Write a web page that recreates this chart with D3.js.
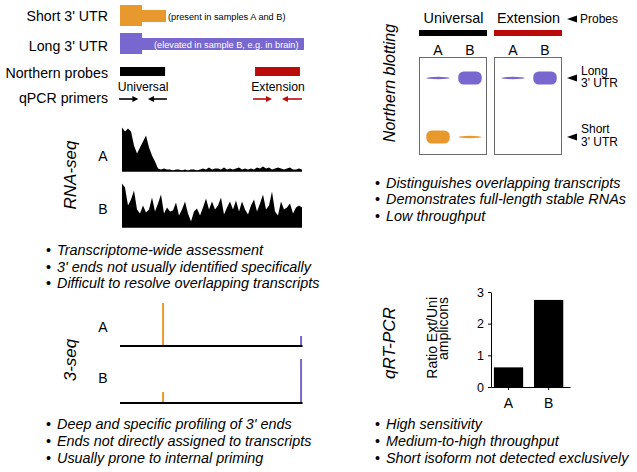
<!DOCTYPE html>
<html><head><meta charset="utf-8">
<script src="https://cdn.jsdelivr.net/npm/d3@7"></script>
<style>
body{margin:0;background:#fff}
svg{display:block;font-family:"Liberation Sans",Arial,Helvetica,sans-serif}
</style>
</head><body>
<svg id="c" width="637" height="472"></svg>
<script>
// ---------------- DATA ----------------
const samples = ["A", "B"];
const isoformNames = ["Short 3' UTR", "Long 3' UTR"];
const isoformNotes = ["(present in samples A and B)", "(elevated in sample B, e.g. in brain)"];
const isoformEnds = [25, 100];          // gene coordinate (0-100) of each 3' end
const cdsEnd = 12;                       // end of the thick (coding) part
const rowLabels = ["Northern probes", "qPCR primers"];
const probeNames = ["Universal", "Extension"];
const probeStarts = [0, 73.4];
const probeEnds = [24.5, 97.8];
const primerFwdStarts = [-0.5, 72.3];
const primerFwdEnds = [10, 82.6];
const primerRevStarts = [25.5, 98.9];
const primerRevEnds = [15.2, 88];

// RNA-seq coverage (61 bins along the gene)
const rnaSeqA = [44,40,43,40,26,18,24,30,36,24,16,10,3,2,3,2,2,1,2,2,1,2,1,2,2,1,2,3,2,4,2,3,3,2,4,2,3,2,3,4,2,3,2,3,2,4,3,5,3,4,2,3,4,3,2,3,4,2,2,3,2];
const rnaSeqB = [44,40,22,28,37,18,14,22,15,18,30,16,24,33,14,20,16,17,25,12,18,26,14,6,16,19,12,20,29,18,26,18,22,30,13,20,26,18,27,16,26,18,13,22,28,16,24,33,18,22,36,16,12,26,18,20,24,14,20,22,20];

// 3-seq read end counts at the two 3' ends
const threeSeqPos = [23.4, 98.4];
const threeSeqA = [43, 10];
const threeSeqB = [11, 44];

// Northern blot band intensities [sample A, sample B]
const blotIsoforms = ["Long", "Short"];
const uniLong = [0.12, 1];
const uniShort = [1, 0.12];
const extLong = [0.12, 1];
const extShort = [0, 0];

// qRT-PCR
const qpcrValues = [0.62, 2.75];
const qpcrTicks = [0, 1, 2, 3];

// text
const bulletsRnaSeq = ["Transcriptome-wide assessment", "3' ends not usually identified specifically", "Difficult to resolve overlapping transcripts"];
const bullets3Seq = ["Deep and specific profiling of 3' ends", "Ends not directly assigned to transcripts", "Usually prone to internal priming"];
const bulletsNorthern = ["Distinguishes overlapping transcripts", "Demonstrates full-length stable RNAs", "Low throughput"];
const bulletsQpcr = ["High sensitivity", "Medium-to-high throughput", "Short isoform not detected exclusively"];

// ---------------- STYLE ----------------
const ORANGE = "#E8992E", PURPLE = "#7767CF", RED = "#BA0A0A", BLACK = "#000";
const svg = d3.select("#c");

const gx = d3.scaleLinear().domain([0, 100]).range([120, 304]);

// ---------- Top-left schema ----------
const labelsLeft = [...isoformNames, ...rowLabels];
const labelBase = [21, 51, 78, 103];
svg.selectAll("text.rowlab").data(labelsLeft).join("text")
  .attr("class", "rowlab").attr("x", 108).attr("y", (d, i) => labelBase[i])
  .attr("text-anchor", "end").attr("font-size", 14.2).text(d => d);

const isoY = [[5, 26, 10, 22], [33, 54, 38, 50]];
const isoCol = [ORANGE, PURPLE];
isoformEnds.forEach((e, i) => {
  svg.append("rect").attr("x", gx(0)).attr("y", isoY[i][0]).attr("width", gx(cdsEnd) - gx(0))
    .attr("height", isoY[i][1] - isoY[i][0]).attr("fill", isoCol[i]);
  svg.append("rect").attr("x", gx(cdsEnd) - 0.5).attr("y", isoY[i][2]).attr("width", gx(e) - gx(cdsEnd) + 0.5)
    .attr("height", isoY[i][3] - isoY[i][2]).attr("fill", isoCol[i]);
});
svg.append("text").attr("x", 168).attr("y", 19.5).attr("font-size", 9.2).text(isoformNotes[0]);
svg.append("text").attr("x", 154).attr("y", 48).attr("font-size", 9.2).attr("fill", "#fff").text(isoformNotes[1]);

const probeCol = [BLACK, RED];
probeNames.forEach((p, i) => {
  svg.append("rect").attr("x", gx(probeStarts[i])).attr("y", 67).attr("width", gx(probeEnds[i]) - gx(probeStarts[i]))
    .attr("height", 9).attr("fill", probeCol[i]);
  svg.append("text").attr("x", (gx(probeStarts[i]) + gx(probeEnds[i])) / 2 + 0.5).attr("y", 90.5)
    .attr("text-anchor", "middle").attr("font-size", 12.2).text(p);
});

function arrow(x1, x2, y, col) {
  const dir = Math.sign(x2 - x1);
  svg.append("line").attr("x1", x1).attr("x2", x2 - dir * 5).attr("y1", y).attr("y2", y)
    .attr("stroke", col).attr("stroke-width", 1.6);
  svg.append("path").attr("d", `M${x2},${y}L${x2 - dir * 6},${y - 3}L${x2 - dir * 6},${y + 3}Z`).attr("fill", col);
}
probeNames.forEach((p, i) => {
  arrow(gx(primerFwdStarts[i]), gx(primerFwdEnds[i]), 99, probeCol[i]);
  arrow(gx(primerRevStarts[i]), gx(primerRevEnds[i]), 99, probeCol[i]);
});

// ---------- Rotated method labels ----------
function vlabel(txt, x, y, size, style, anchor) {
  svg.append("text").attr("transform", `translate(${x},${y}) rotate(-90)`)
    .attr("text-anchor", anchor || "middle").attr("font-size", size)
    .attr("font-style", style || "normal").text(txt);
}
vlabel("RNA-seq", 75.5, 175, 17, "italic");
vlabel("3-seq", 75.5, 360, 17, "italic");
vlabel("Northern blotting", 395, 83, 16, "italic");
vlabel("qRT-PCR", 395, 343, 17, "italic");

// ---------- RNA-seq ----------
const covX = d3.scaleLinear().domain([0, rnaSeqA.length - 1]).range([122, 302]);
const covH = d3.scaleLinear().domain([0, 44]).range([0, 44]);
[[rnaSeqA, 171.5], [rnaSeqB, 227.5]].forEach(([arr, base], k) => {
  const area = d3.area().x((d, i) => covX(i)).y0(base).y1(d => base - covH(d));
  svg.append("path").datum(arr).attr("d", area).attr("fill", BLACK);
  svg.append("line").attr("x1", covX(0)).attr("x2", covX(arr.length - 1)).attr("y1", base - 0.5).attr("y2", base - 0.5)
    .attr("stroke", BLACK).attr("stroke-width", 1);
  svg.append("text").attr("x", 103).attr("y", k ? 214 : 161).attr("text-anchor", "middle")
    .attr("font-size", 14).text(samples[k]);
});

// ---------- Bullets ----------
function bullets(list, x, ys) {
  list.forEach((t, i) => {
    svg.append("text").attr("x", x - 11).attr("y", ys[i]).attr("font-size", 14.4).text("\u2022");
    svg.append("text").attr("x", x).attr("y", ys[i]).attr("font-size", 14.4).attr("font-style", "italic").text(t);
  });
}
bullets(bulletsRnaSeq, 57, [254.5, 271.5, 288]);
bullets(bullets3Seq, 57, [429, 446, 463]);
bullets(bulletsNorthern, 386, [187.5, 204, 221]);
bullets(bulletsQpcr, 386, [429, 446, 463]);

// ---------- 3-seq ----------
const endH = d3.scaleLinear().domain([0, 44]).range([0, 44]);
const endCol = [ORANGE, PURPLE];
[[threeSeqA, 346], [threeSeqB, 403]].forEach(([vals, base], k) => {
  svg.append("line").attr("x1", gx(0)).attr("x2", gx(99.2)).attr("y1", base).attr("y2", base)
    .attr("stroke", BLACK).attr("stroke-width", 2.2);
  vals.forEach((v, j) => {
    svg.append("line").attr("x1", gx(threeSeqPos[j])).attr("x2", gx(threeSeqPos[j]))
      .attr("y1", base - 1).attr("y2", base - endH(v)).attr("stroke", endCol[j]).attr("stroke-width", 2);
  });
  svg.append("text").attr("x", 103).attr("y", k ? 383 : 332).attr("text-anchor", "middle")
    .attr("font-size", 14).text(samples[k]);
});

// ---------- Northern blot ----------
const boxX = [419, 494];
const boxW = 67;
const laneX = d3.scalePoint().domain(samples).range([19, 51]);
const rowY = d3.scalePoint().domain(blotIsoforms).range([78, 137]);
const bandH = d3.scaleLinear().domain([0, 1]).range([0, 13]);
const panels = [
  {probe: probeNames[0], col: BLACK, data: {Long: uniLong, Short: uniShort}},
  {probe: probeNames[1], col: RED, data: {Long: extLong, Short: extShort}}
];
panels.forEach((p, i) => {
  const x0 = boxX[i];
  svg.append("text").attr("x", x0 + boxW / 2 + 1).attr("y", 23).attr("text-anchor", "middle")
    .attr("font-size", 14.4).text(p.probe);
  svg.append("rect").attr("x", x0).attr("y", 30).attr("width", boxW + 1).attr("height", 6).attr("fill", p.col);
  samples.forEach(s => {
    svg.append("text").attr("x", x0 + laneX(s)).attr("y", 54.5).attr("text-anchor", "middle")
      .attr("font-size", 14).text(s);
  });
  svg.append("rect").attr("x", x0 + 0.5).attr("y", 57.5).attr("width", boxW).attr("height", 97)
    .attr("fill", "none").attr("stroke", "#6b6b6b").attr("stroke-width", 1);
  blotIsoforms.forEach(iso => {
    const col = iso === "Long" ? PURPLE : ORANGE;
    p.data[iso].forEach((v, j) => {
      if (v <= 0) return;
      const cx = x0 + laneX(samples[j]), cy = rowY(iso), h = bandH(v), w = 23.5;
      if (h < 5) {
        svg.append("ellipse").attr("cx", cx).attr("cy", cy).attr("rx", w / 2).attr("ry", h / 2 + 0.4).attr("fill", col);
      } else {
        svg.append("rect").attr("x", cx - w / 2).attr("y", cy - h / 2).attr("width", w).attr("height", h)
          .attr("rx", 5.5).attr("fill", col);
      }
    });
  });
});
function leftTri(x, y) {
  svg.append("path").attr("d", `M${x},${y}L${x + 10},${y - 3.5}L${x + 10},${y + 3.5}Z`).attr("fill", BLACK);
}
leftTri(567, 19);
svg.append("text").attr("x", 580).attr("y", 23).attr("font-size", 12).text("Probes");
leftTri(567, rowY("Long"));
leftTri(567, rowY("Short"));
svg.append("text").attr("x", 581).attr("y", 74.5).attr("font-size", 12).text("Long");
svg.append("text").attr("x", 581).attr("y", 87).attr("font-size", 12).text("3' UTR");
svg.append("text").attr("x", 581).attr("y", 133).attr("font-size", 12).text("Short");
svg.append("text").attr("x", 581).attr("y", 146).attr("font-size", 12).text("3' UTR");

// ---------- qRT-PCR bar chart ----------
const qy = d3.scaleLinear().domain([0, 3]).range([387, 292]);
const qx = d3.scaleBand().domain(samples).range([491, 570]).paddingInner(0.27).paddingOuter(0.12).align(0.3);
svg.selectAll("rect.bar").data(qpcrValues).join("rect").attr("class", "bar")
  .attr("x", (d, i) => qx(samples[i])).attr("width", qx.bandwidth())
  .attr("y", d => qy(d)).attr("height", d => qy(0) - qy(d)).attr("fill", BLACK);
const yAx = svg.append("g").attr("transform", "translate(491,0)")
  .call(d3.axisLeft(qy).tickValues(qpcrTicks).tickFormat(d3.format("d")).tickSize(3).tickSizeOuter(0).tickPadding(4));
const xAx = svg.append("g").attr("transform", "translate(0,387)")
  .call(d3.axisBottom(qx).tickSize(3).tickSizeOuter(0).tickPadding(8));
yAx.selectAll("text").attr("font-size", 12.5).attr("font-family", "Liberation Sans");
xAx.selectAll("text").attr("font-size", 14).attr("font-family", "Liberation Sans");
[yAx, xAx].forEach(a => { a.selectAll("path,line").attr("stroke", BLACK).attr("stroke-width", 1); });
vlabel("Ratio Ext/Uni", 436.5, 297, 14, "normal", "end");
vlabel("amplicons", 448, 297, 14, "normal", "end");
</script>
</body></html>
